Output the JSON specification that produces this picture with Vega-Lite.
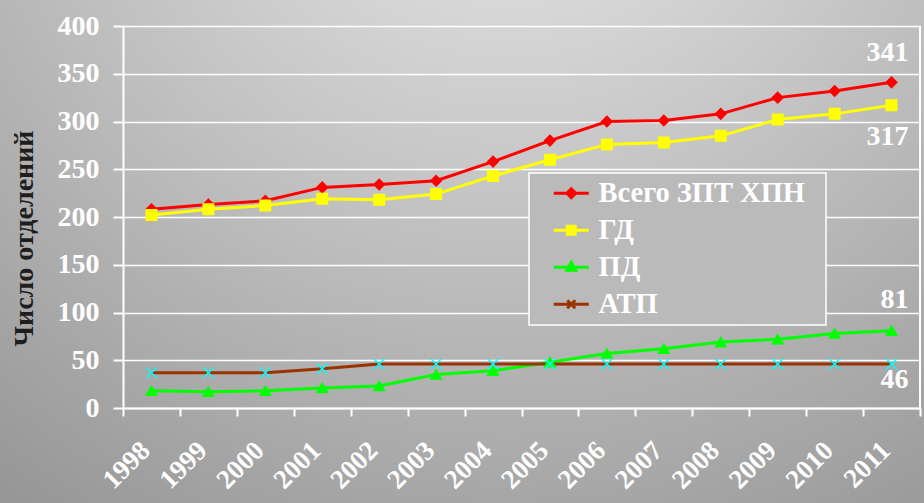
{
  "$schema": "https://vega.github.io/schema/vega-lite/v6.json",
  "width": 924,
  "height": 503,
  "autosize": {"type": "none"},
  "padding": 0,
  "background": "#9a9a9a",
  "config": {
    "view": {
      "stroke": null,
      "fill": {"gradient": "radial", "x1": 0.55, "y1": 0, "r1": 0, "x2": 0.55, "y2": 0, "r2": 1.05,
        "stops": [{"offset": 0, "color": "#ececec"}, {"offset": 0.5, "color": "#bdbdbd"}, {"offset": 1, "color": "#8c8c8c"}]}
    },
    "font": "Liberation Serif, Times New Roman, DejaVu Serif, serif"
  },
  "data": {"values": [
    {"year": "1998", "series": "Всего ЗПТ ХПН", "value": 208},
    {"year": "1999", "series": "Всего ЗПТ ХПН", "value": 213},
    {"year": "2000", "series": "Всего ЗПТ ХПН", "value": 217},
    {"year": "2001", "series": "Всего ЗПТ ХПН", "value": 231},
    {"year": "2002", "series": "Всего ЗПТ ХПН", "value": 234},
    {"year": "2003", "series": "Всего ЗПТ ХПН", "value": 238},
    {"year": "2004", "series": "Всего ЗПТ ХПН", "value": 258},
    {"year": "2005", "series": "Всего ЗПТ ХПН", "value": 280},
    {"year": "2006", "series": "Всего ЗПТ ХПН", "value": 300},
    {"year": "2007", "series": "Всего ЗПТ ХПН", "value": 301},
    {"year": "2008", "series": "Всего ЗПТ ХПН", "value": 308},
    {"year": "2009", "series": "Всего ЗПТ ХПН", "value": 325},
    {"year": "2010", "series": "Всего ЗПТ ХПН", "value": 332},
    {"year": "2011", "series": "Всего ЗПТ ХПН", "value": 341},
    {"year": "1998", "series": "ГД", "value": 202},
    {"year": "1999", "series": "ГД", "value": 208},
    {"year": "2000", "series": "ГД", "value": 212},
    {"year": "2001", "series": "ГД", "value": 219},
    {"year": "2002", "series": "ГД", "value": 218},
    {"year": "2003", "series": "ГД", "value": 224},
    {"year": "2004", "series": "ГД", "value": 243},
    {"year": "2005", "series": "ГД", "value": 260},
    {"year": "2006", "series": "ГД", "value": 276},
    {"year": "2007", "series": "ГД", "value": 278},
    {"year": "2008", "series": "ГД", "value": 285},
    {"year": "2009", "series": "ГД", "value": 302},
    {"year": "2010", "series": "ГД", "value": 308},
    {"year": "2011", "series": "ГД", "value": 317},
    {"year": "1998", "series": "ПД", "value": 18},
    {"year": "1999", "series": "ПД", "value": 17},
    {"year": "2000", "series": "ПД", "value": 18},
    {"year": "2001", "series": "ПД", "value": 21},
    {"year": "2002", "series": "ПД", "value": 23},
    {"year": "2003", "series": "ПД", "value": 35},
    {"year": "2004", "series": "ПД", "value": 39},
    {"year": "2005", "series": "ПД", "value": 48},
    {"year": "2006", "series": "ПД", "value": 57},
    {"year": "2007", "series": "ПД", "value": 62},
    {"year": "2008", "series": "ПД", "value": 69},
    {"year": "2009", "series": "ПД", "value": 72},
    {"year": "2010", "series": "ПД", "value": 78},
    {"year": "2011", "series": "ПД", "value": 81},
    {"year": "1998", "series": "АТП", "value": 37},
    {"year": "1999", "series": "АТП", "value": 37},
    {"year": "2000", "series": "АТП", "value": 37},
    {"year": "2001", "series": "АТП", "value": 41},
    {"year": "2002", "series": "АТП", "value": 46},
    {"year": "2003", "series": "АТП", "value": 46},
    {"year": "2004", "series": "АТП", "value": 46},
    {"year": "2005", "series": "АТП", "value": 46},
    {"year": "2006", "series": "АТП", "value": 46},
    {"year": "2007", "series": "АТП", "value": 46},
    {"year": "2008", "series": "АТП", "value": 46},
    {"year": "2009", "series": "АТП", "value": 46},
    {"year": "2010", "series": "АТП", "value": 46},
    {"year": "2011", "series": "АТП", "value": 46}
  ]},
  "encoding": {
    "x": {
      "field": "year", "type": "ordinal",
      "scale": {"type": "band", "range": [123, 920], "paddingInner": 0, "paddingOuter": 0},
      "axis": {
        "title": null, "offset": -95, "grid": false,
        "domainColor": "white", "domainWidth": 2,
        "tickColor": "white", "tickWidth": 2, "tickSize": 8, "tickBand": "extent",
        "labelAngle": -45, "labelAlign": "right", "labelBaseline": "middle",
        "labelFont": "Liberation Serif, Times New Roman, DejaVu Serif, serif", "labelFontWeight": "bold", "labelFontSize": 27,
        "labelColor": "white", "labelPadding": 30, "labelOffset": -6
      }
    },
    "y": {
      "field": "value", "type": "quantitative",
      "scale": {"domain": [0, 400], "range": [408, 26], "nice": false},
      "axis": {
        "title": "Число отделений", "offset": -123,
        "values": [0, 50, 100, 150, 200, 250, 300, 350, 400],
        "domainColor": "white", "domainWidth": 2,
        "tickColor": "white", "tickWidth": 2, "tickSize": 10,
        "labelFont": "Liberation Serif, Times New Roman, DejaVu Serif, serif", "labelFontWeight": "bold", "labelFontSize": 28,
        "labelColor": "white", "labelPadding": 14,
        "grid": true, "gridColor": "white", "gridWidth": 1.5, "gridOpacity": 1,
        "titleFont": "Liberation Serif, Times New Roman, DejaVu Serif, serif", "titleFontSize": 28, "titleFontWeight": "bold",
        "titleColor": "#1e1e1e", "titleAngle": -90, "titleX": -99, "titleY": 238,
        "titleAlign": "center", "titleBaseline": "middle"
      }
    }
  },
  "layer": [
    {
      "mark": {"type": "rule", "color": "white", "strokeWidth": 2},
      "encoding": {
        "x": {"datum": "2011", "bandPosition": 1},
        "y": {"datum": 0},
        "y2": {"datum": 400}
      }
    },
    {
      "mark": {"type": "line", "strokeWidth": 3},
      "encoding": {
        "color": {
          "field": "series", "type": "nominal",
          "scale": {"domain": ["Всего ЗПТ ХПН", "ГД", "ПД", "АТП"], "range": ["#ff0000", "#ffff00", "#00ff00", "#993300"]},
          "legend": {
            "orient": "none", "legendX": 529, "legendY": 173,
            "title": "\u00a0", "titleOrient": "right", "titlePadding": 15, "titleFontSize": 10, "titleColor": "transparent",
            "fillColor": "#bababa",
            "strokeColor": "white",
            "padding": 6, "symbolSize": 100, "symbolOffset": 22, "labelOffset": 13, "rowPadding": 8,
            "labelFont": "Liberation Serif, Times New Roman, DejaVu Serif, serif", "labelFontSize": 28.5, "labelFontWeight": "bold",
            "labelColor": "white", "labelLimit": 400,
            "encode": {
              "legend": {"update": {"strokeWidth": {"value": 1.5}}},
              "symbols": {
                "update": {
                  "shape": {"signal": "datum.value == 'Всего ЗПТ ХПН' ? 'M-3.5,0L3.5,0M0,-0.9L0.9,0L0,0.9L-0.9,0Z' : datum.value == 'ГД' ? 'M-3.5,0L3.5,0M-0.8,-0.8L0.8,-0.8L0.8,0.8L-0.8,0.8Z' : datum.value == 'ПД' ? 'M-3.5,0L3.5,0M0,-1L0.9,0.6L-0.9,0.6Z' : 'M-3.5,0L3.5,0M-0.8,-0.8L0.8,0.8M-0.8,0.8L0.8,-0.8'"},
                  "fill": {"scale": "color", "field": "value"},
                  "stroke": {"scale": "color", "field": "value"},
                  "strokeWidth": {"value": 3},
                  "size": {"value": 100},
                  "opacity": {"value": 1}
                }
              }
            }
          }
        }
      }
    },
    {
      "mark": {"type": "point", "filled": true, "opacity": 1, "strokeWidth": 1.5, "size": 110},
      "encoding": {
        "shape": {
          "field": "series", "type": "nominal", "legend": null,
          "scale": {"range": ["M-1,-1L1,1M-1,1L1,-1", "diamond", "square", "triangle-up"]}
        },
        "fill": {
          "field": "series", "type": "nominal", "legend": null,
          "scale": {"range": ["transparent", "#ff0000", "#ffff00", "#00ff00"]}
        },
        "stroke": {
          "field": "series", "type": "nominal", "legend": null,
          "scale": {"range": ["#00ffff", "#ff0000", "#ffff00", "#00ff00"]}
        }
      }
    },
    {
      "transform": [{"filter": "datum.year == '2011' && datum.series == 'Всего ЗПТ ХПН'"}],
      "mark": {"type": "text", "align": "right", "baseline": "middle", "dx": 17, "dy": -29, "font": "Liberation Serif, Times New Roman, DejaVu Serif, serif", "fontSize": 28, "fontWeight": "bold", "color": "white"},
      "encoding": {"text": {"field": "value", "type": "quantitative"}}
    },
    {
      "transform": [{"filter": "datum.year == '2011' && datum.series == 'ГД'"}],
      "mark": {"type": "text", "align": "right", "baseline": "middle", "dx": 17, "dy": 32, "font": "Liberation Serif, Times New Roman, DejaVu Serif, serif", "fontSize": 28, "fontWeight": "bold", "color": "white"},
      "encoding": {"text": {"field": "value", "type": "quantitative"}}
    },
    {
      "transform": [{"filter": "datum.year == '2011' && datum.series == 'ПД'"}],
      "mark": {"type": "text", "align": "right", "baseline": "middle", "dx": 17, "dy": -31, "font": "Liberation Serif, Times New Roman, DejaVu Serif, serif", "fontSize": 28, "fontWeight": "bold", "color": "white"},
      "encoding": {"text": {"field": "value", "type": "quantitative"}}
    },
    {
      "transform": [{"filter": "datum.year == '2011' && datum.series == 'АТП'"}],
      "mark": {"type": "text", "align": "right", "baseline": "middle", "dx": 17, "dy": 16, "font": "Liberation Serif, Times New Roman, DejaVu Serif, serif", "fontSize": 28, "fontWeight": "bold", "color": "white"},
      "encoding": {"text": {"field": "value", "type": "quantitative"}}
    }
  ]
}
